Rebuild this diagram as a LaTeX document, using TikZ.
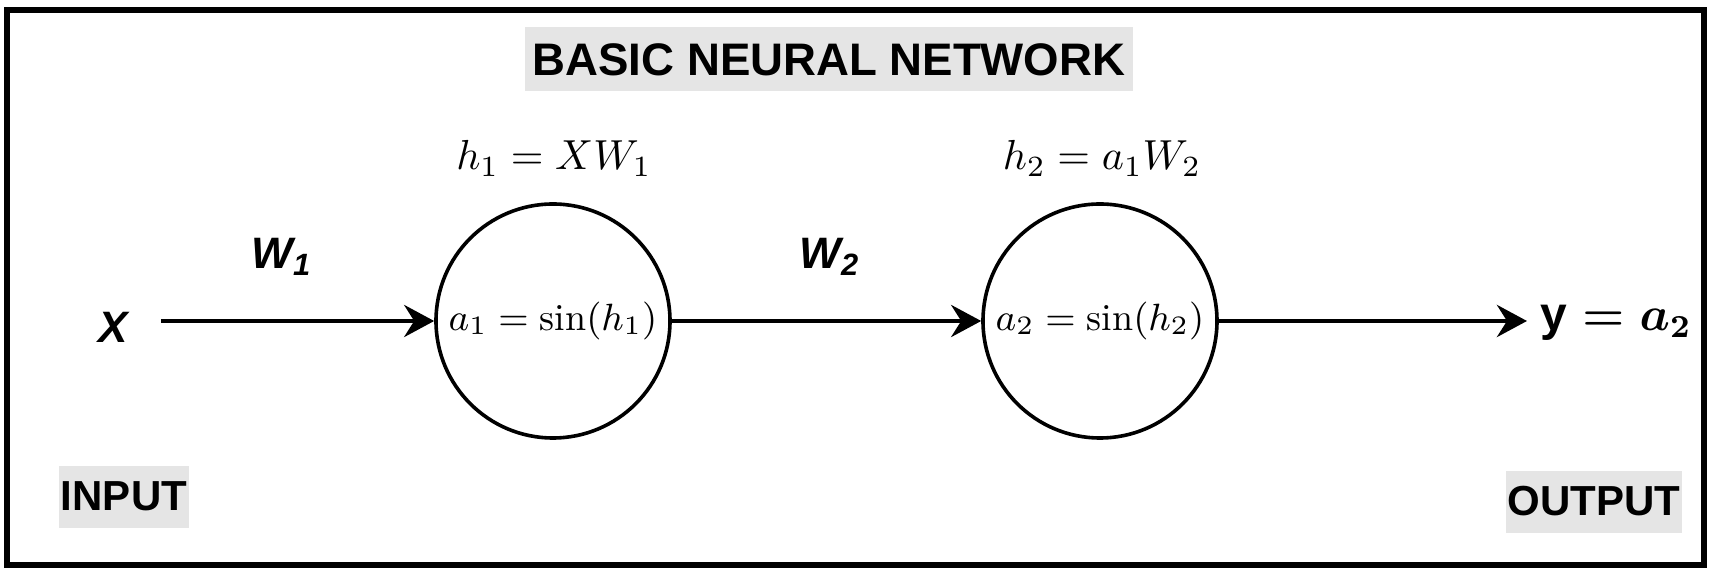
\RequirePackage{fix-cm}
\documentclass[tikz,border=0pt]{standalone}
\usepackage{amsmath}
\usepackage{fontspec}
\setsansfont{Liberation Sans}
\usetikzlibrary{arrows.meta}

\tikzset{
    neuron/.style={circle, draw, line width=0.9pt, minimum size=58.5pt, inner sep=0pt,
        font=\fontsize{9.5}{11}\selectfont},
    conn/.style={line width=1.2pt, -{Stealth[length=7.5pt, width=8pt, inset=2.5pt]}},
    tag/.style={fill=black!10, inner xsep=0.5pt, text height=7.6pt, text depth=1pt,
        font=\fontsize{10.5}{12}\sffamily\bfseries\selectfont},
    wlabel/.style={font=\fontsize{11}{13}\sffamily\bfseries\itshape\selectfont},
    hlabel/.style={anchor=base, font=\fontsize{10.5}{12}\selectfont}
}

\begin{document}
\begin{tikzpicture}[x=0.25pt, y=-0.25pt]
    \useasboundingbox (0,0) rectangle (1716,576);
    % draw frame
    \draw[line width = 1.4pt] (7,10) rectangle (1704,565);
    % title
    \node[tag, minimum width=152pt, minimum height=11.5pt, text height=8.8pt, text depth=0.4pt,
        font=\fontsize{11.4}{13}\sffamily\bfseries\selectfont] (title) at (829,59) {BASIC NEURAL NETWORK};
    % neurons
    \node[neuron] (n1) at (553,321) {$a_1 = \sin(h_1)$};
    \node[neuron] (n2) at (1100,321) {$a_2 = \sin(h_2)$};
    \node[hlabel] (h1) at (554,170) {$h_1 = XW_1$};
    \node[hlabel] (h2) at (1102,170) {$h_2 = a_1W_2$};
    % input and output
    \node[wlabel] (x) at (113,327) {X};
    \coordinate (yend) at (1527,321);
    \node[font=\fontsize{12}{14}\selectfont] (y) at (1616,323) {{\sffamily\bfseries y}$\boldsymbol{{}= a_2}$};
    % weights
    \node[wlabel] (w1) at (282,257) {W\textsubscript{1}};
    \node[wlabel] (w2) at (830,257) {W\textsubscript{2}};
    % draw connections
    \draw[conn, shorten <=4.75pt] (x.east |- n1.west) -- (n1.west);
    \draw[conn] (n1) -- (n2);
    \draw[conn] (n2) -- (yend);
    % labels
    \node[tag, minimum height=11.75pt] (input) at (124,497) {INPUT};
    \node[tag, minimum height=12.5pt] (output) at (1594,502) {OUTPUT};
\end{tikzpicture}
\end{document}
